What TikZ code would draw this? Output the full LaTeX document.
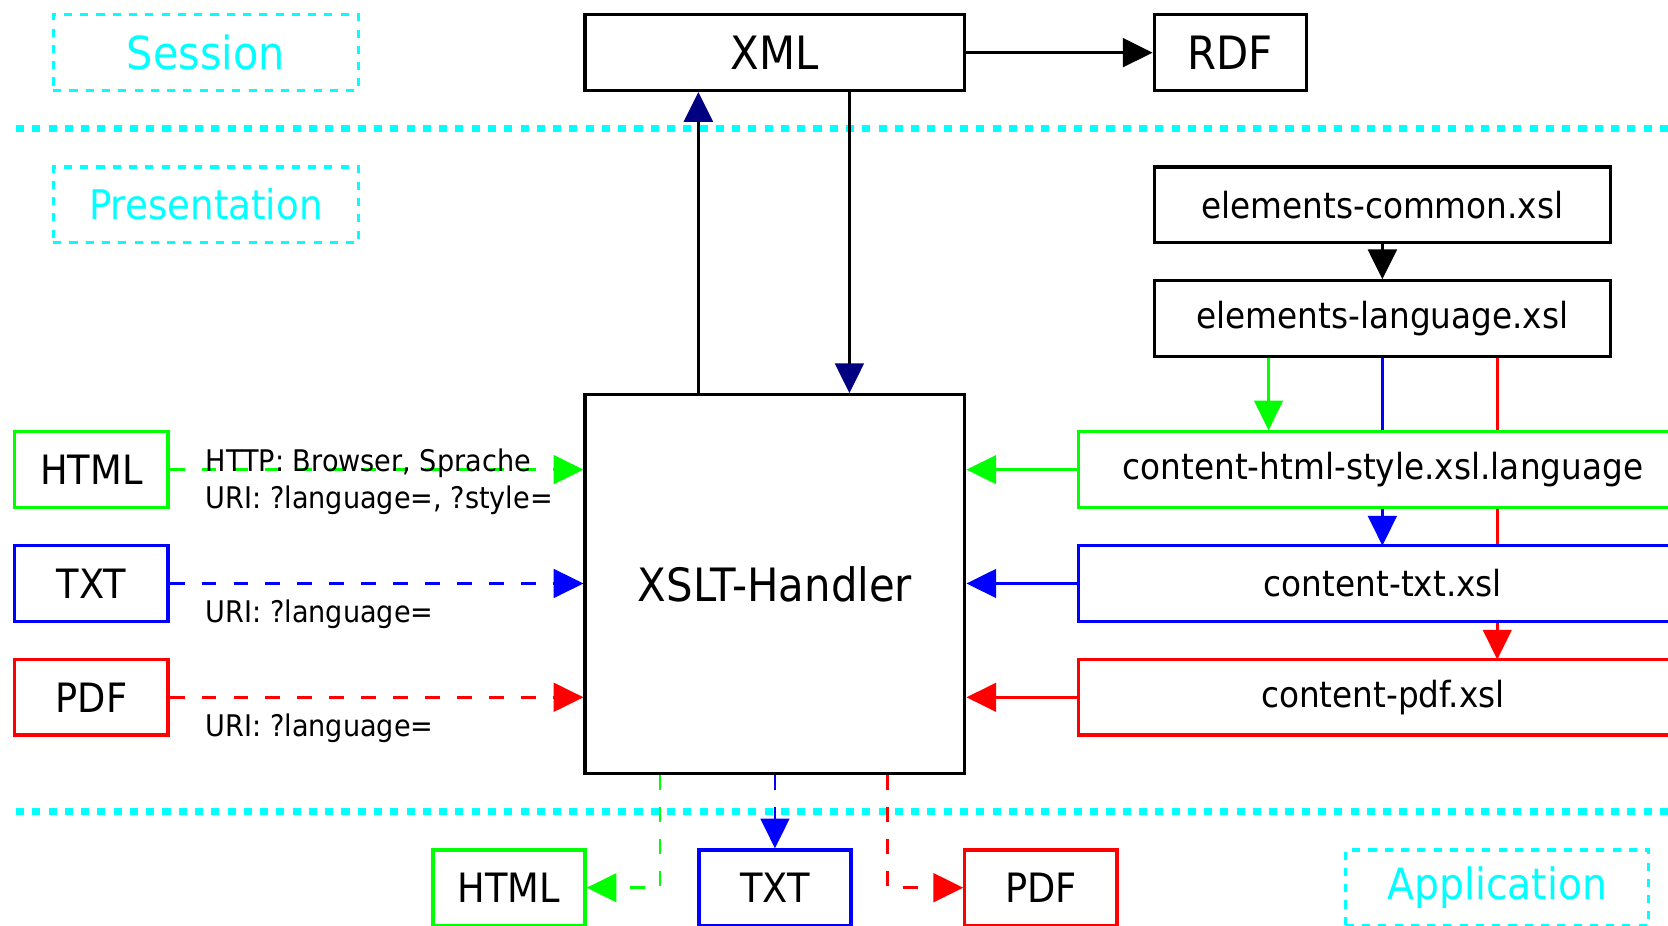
\documentclass[tikz,border=0pt]{standalone}
\usepackage{fontspec}
\setmainfont{DejaVu Sans}[FakeStretch=0.91]
\usetikzlibrary{arrows.meta,backgrounds,calc}
\definecolor{cyn}{HTML}{00FFFF}
\definecolor{grn}{HTML}{00FF00}
\definecolor{blu}{HTML}{0000FF}
\definecolor{rd}{HTML}{FF0000}
\definecolor{nvy}{HTML}{000080}
\newcommand{\fsz}[1]{\fontsize{#1}{1.2\dimexpr#1\relax}\selectfont}
\tikzset{
  box/.style={draw, line width=1.5pt, fill=white, inner sep=0pt, text=black},
  layerbox/.style={draw=cyn, line width=1.5pt, dash pattern=on 3.8pt off 3.85pt, inner sep=0pt, text=cyn, minimum width=143.5pt, minimum height=35.5pt},
  bigtxt/.style={font=\fsz{21.6pt}},
  midtxt/.style={font=\fsz{16.9pt}},
  fmttxt/.style={font=\fsz{19pt}},
  lbltxt/.style={font=\fsz{14pt}, inner sep=0pt, anchor=base west},
  arrowtip/.style={-{Triangle[length=14pt,width=13.5pt]}},
  conn/.style={line width=1.2pt},
  dashline/.style={line width=1.2pt, dash pattern=on 7pt off 8pt},
  sepline/.style={draw=cyn, line width=3.1pt, dash pattern=on 3.8pt off 3.85pt},
}
\begin{document}
\begin{tikzpicture}[x=0.5pt,y=-0.5pt]
\useasboundingbox (0,0) rectangle (1568,870);
\clip (0,0) rectangle (1568,870);
% layer labels
\node[layerbox, font=\fsz{21.4pt}] (session) at (193.5,49.5) {Session};
\node[layerbox, font=\fsz{19.2pt}] (pres) at (193.5,192.5) {Presentation};
\node[layerbox, font=\fsz{20.3pt}, minimum width=142.5pt] (app) at (1407.5,834.5) {Application};
% separators
\coordinate (s1a) at (15,121);
\coordinate (s1b) at (1590,121);
\coordinate (s2a) at (15,763);
\coordinate (s2b) at (1590,763);
\draw[sepline] (s1a) -- (s1b);
\draw[sepline] (s2a) -- (s2b);
% main boxes
\node[box, bigtxt, minimum width=178.5pt, minimum height=35.5pt] (xml) at (728.5,49.5) {XML};
\node[box, bigtxt, minimum width=71.5pt, minimum height=35.5pt] (rdf) at (1156.5,49.5) {RDF};
\node[box, bigtxt, minimum width=178.5pt, minimum height=178pt] (xslt) at (728.5,549) {XSLT-Handler};
\node[box, midtxt, minimum width=214.5pt, minimum height=35.5pt] (common) at (1299.5,192.5) {elements-common.xsl};
\node[box, midtxt, minimum width=214.5pt, minimum height=35.5pt] (lang) at (1299.5,299.5) {elements-language.xsl};
% long connectors behind the content boxes
\coordinate (tb) at (0,513);
\coordinate (pb) at (0,620);
\draw[conn, draw=blu, arrowtip, blu] (lang.south) -- (lang.south |- tb);
\draw[conn, draw=rd, arrowtip, rd] ([xshift=54pt]lang.south) -- ([xshift=54pt]lang.south |- pb);
\node[box, draw=grn, midtxt, minimum width=286pt, minimum height=35.5pt] (chtml) at (1300,441.5) {content-html-style.xsl.language};
\node[box, draw=blu, midtxt, minimum width=286pt, minimum height=35.5pt] (ctxt) at (1300,548.5) {content-txt.xsl};
\node[box, draw=rd, midtxt, minimum width=286pt, minimum height=35.5pt] (cpdf) at (1300,655.5) {content-pdf.xsl};
% left format boxes
\node[box, draw=grn, fmttxt, minimum width=72pt, minimum height=35.5pt] (lhtml) at (86,441.5) {HTML};
\node[box, draw=blu, fmttxt, minimum width=72pt, minimum height=35.5pt] (ltxt) at (86,548.5) {TXT};
\node[box, draw=rd, fmttxt, minimum width=72pt, minimum height=35.5pt] (lpdf) at (86,655.5) {PDF};
% bottom format boxes
\node[box, draw=grn, fmttxt, minimum width=71.5pt, minimum height=35.5pt] (bhtml) at (478.5,834.5) {HTML};
\node[box, draw=blu, fmttxt, minimum width=71.5pt, minimum height=35.5pt] (btxt) at (728.5,834.5) {TXT};
\node[box, draw=rd, fmttxt, minimum width=71.5pt, minimum height=35.5pt] (bpdf) at (978.5,834.5) {PDF};
% black connectors
\draw[line width=1.5pt, arrowtip] (xml.east) -- (rdf.west);
\draw[line width=1.5pt, arrowtip] (common.south) -- (lang.north);
\draw[line width=1.5pt, -{Triangle[length=14pt,width=13.5pt,color=nvy]}] ([xshift=54pt]xslt.north west) -- ([xshift=54pt]xml.south west);
\draw[line width=1.5pt, -{Triangle[length=14pt,width=13.5pt,color=nvy]}] ([xshift=125pt]xml.south west) -- ([xshift=125pt]xslt.north west);
% green from language
\draw[conn, draw=grn, arrowtip, grn] ([xshift=-53.5pt]lang.south) -- ([xshift=-53.5pt]lang.south |- chtml.north);
% content -> handler
\draw[conn, draw=grn, arrowtip, grn] (chtml.west) -- (xslt.east |- chtml.west);
\draw[conn, draw=blu, arrowtip, blu] (ctxt.west) -- (xslt.east |- ctxt.west);
\draw[conn, draw=rd, arrowtip, rd] (cpdf.west) -- (xslt.east |- cpdf.west);
% request formats -> handler
\draw[dashline, draw=grn, arrowtip, grn] (lhtml.east) -- (xslt.west |- lhtml.east);
\draw[dashline, draw=blu, arrowtip, blu] (ltxt.east) -- (xslt.west |- ltxt.east);
\draw[dashline, draw=rd, arrowtip, rd] (lpdf.east) -- (xslt.west |- lpdf.east);
% labels
\node[lbltxt] (l1) at (193,443) {HTTP: Browser, Sprache};
\node[lbltxt] (l2) at (193,478) {URI: ?language=, ?style=};
\node[lbltxt] (l3) at (193,585) {URI: ?language=};
\node[lbltxt] (l4) at (193,692) {URI: ?language=};
% handler -> output formats
\draw[dashline, draw=grn, arrowtip, grn] ([xshift=36pt]xslt.south west) |- (bhtml.east);
\draw[dashline, draw=blu, arrowtip, blu] (xslt.south) -- (btxt.north);
\draw[dashline, draw=rd, arrowtip, rd] ([xshift=143pt]xslt.south west) |- (bpdf.west);
\end{tikzpicture}
\end{document}
